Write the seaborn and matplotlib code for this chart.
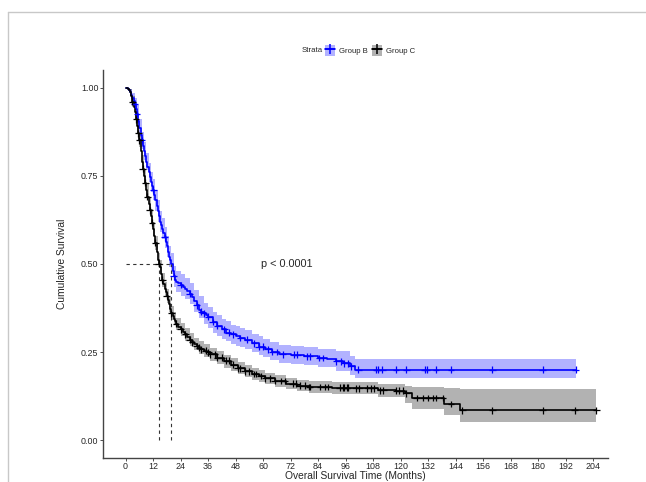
import numpy as np
import pandas as pd
import matplotlib
matplotlib.use("Agg")
import matplotlib.pyplot as plt
from matplotlib.lines import Line2D
from matplotlib.patches import Patch
import seaborn as sns

# survival curve knots (months, survival)
b_time = [0, 0.5, 1, 1.5, 2, 2.5, 3, 3.5, 4, 4.5, 5, 5.5, 6, 6.5, 7, 7.5, 8, 8.5, 9, 9.5,
          10, 10.5, 11, 11.5, 12, 12.5, 13, 13.5, 14, 14.5, 15, 15.5, 16, 16.5, 17, 17.5,
          18, 18.5, 19, 19.5, 20, 20.5, 21, 21.5, 22, 23, 24, 25, 26, 27, 28, 29, 30, 31,
          32, 33, 34, 35, 36, 38, 40, 42, 44, 46, 48, 50, 52, 55, 58, 61, 64, 67, 72, 78,
          84, 88, 92, 95, 98, 100, 196.5]
b_surv = [1.0, 1.0, 0.997, 0.993, 0.987, 0.978, 0.97, 0.962, 0.953, 0.94, 0.925, 0.905,
          0.885, 0.865, 0.85, 0.835, 0.82, 0.805, 0.79, 0.775, 0.76, 0.745, 0.732, 0.72,
          0.71, 0.695, 0.68, 0.665, 0.65, 0.635, 0.62, 0.61, 0.60, 0.588, 0.575, 0.562,
          0.55, 0.535, 0.52, 0.51, 0.50, 0.48, 0.465, 0.455, 0.45, 0.445, 0.44, 0.435,
          0.43, 0.423, 0.415, 0.405, 0.395, 0.383, 0.37, 0.365, 0.36, 0.355, 0.35, 0.335,
          0.325, 0.315, 0.305, 0.30, 0.295, 0.29, 0.285, 0.275, 0.265, 0.258, 0.25, 0.244,
          0.242, 0.238, 0.233, 0.23, 0.224, 0.218, 0.21, 0.20, 0.20]

c_time = [0, 0.5, 1, 1.5, 2, 2.5, 3, 3.5, 4, 4.5, 5, 5.5, 6, 6.5, 7, 7.5, 8, 8.5, 9, 9.5,
          10, 10.5, 11, 11.5, 12, 12.5, 13, 13.5, 14, 14.5, 15, 15.5, 16, 16.5, 17, 17.5,
          18, 18.5, 19, 19.5, 20, 20.5, 21, 21.5, 22, 23, 24, 25, 26, 27, 28, 29, 30, 31,
          32, 33, 34, 35.5, 37, 40, 43, 46, 49, 52, 55, 58, 61, 65, 70, 75, 80, 90, 100,
          110, 118, 122, 125, 139, 146, 205.5]
c_surv = [1.0, 1.0, 0.997, 0.993, 0.986, 0.975, 0.96, 0.945, 0.93, 0.91, 0.89, 0.87, 0.85,
          0.82, 0.79, 0.77, 0.75, 0.73, 0.71, 0.69, 0.67, 0.652, 0.635, 0.617, 0.60, 0.58,
          0.56, 0.535, 0.51, 0.50, 0.49, 0.472, 0.455, 0.442, 0.43, 0.42, 0.41, 0.397,
          0.385, 0.372, 0.36, 0.352, 0.345, 0.337, 0.33, 0.322, 0.315, 0.307, 0.30, 0.292,
          0.285, 0.278, 0.272, 0.267, 0.262, 0.258, 0.254, 0.249, 0.244, 0.234, 0.225,
          0.214, 0.204, 0.195, 0.188, 0.182, 0.176, 0.168, 0.16, 0.155, 0.151, 0.149,
          0.147, 0.142, 0.14, 0.133, 0.12, 0.103, 0.085, 0.085]

# confidence bands
b_band_t = [0, 1, 2, 3, 4, 5, 6, 7, 8, 9, 10, 11, 12, 13, 14, 15, 16, 17, 18, 19, 20, 21,
            22, 24, 26, 28, 30, 32, 34, 36, 38, 40, 42, 44, 46, 48, 50, 52, 55, 58, 60, 63,
            67, 72, 78, 84, 92, 98, 100, 196.5]
b_lo = [1.0, 0.99, 0.975, 0.955, 0.935, 0.9, 0.86, 0.825, 0.795, 0.765, 0.733, 0.703,
        0.68, 0.65, 0.62, 0.59, 0.57, 0.545, 0.52, 0.49, 0.47, 0.435, 0.42, 0.41, 0.40,
        0.385, 0.365, 0.348, 0.33, 0.317, 0.305, 0.296, 0.287, 0.28, 0.272, 0.268, 0.263,
        0.258, 0.25, 0.242, 0.236, 0.227, 0.218, 0.215, 0.212, 0.207, 0.197, 0.185,
        0.176, 0.176]
b_hi = [1.0, 1.0, 0.997, 0.985, 0.97, 0.95, 0.91, 0.875, 0.845, 0.815, 0.787, 0.76, 0.74,
        0.71, 0.68, 0.65, 0.63, 0.605, 0.58, 0.55, 0.53, 0.495, 0.48, 0.47, 0.46, 0.445,
        0.425, 0.408, 0.39, 0.377, 0.365, 0.355, 0.345, 0.337, 0.328, 0.323, 0.318, 0.312,
        0.302, 0.295, 0.288, 0.279, 0.27, 0.268, 0.265, 0.26, 0.252, 0.238, 0.23, 0.23]

c_band_t = [0, 1, 2, 3, 4, 5, 6, 7, 8, 9, 10, 11, 12, 13, 14, 15, 16, 17, 18, 19, 20, 21,
            22, 24, 26, 28, 30, 32, 34, 37, 40, 43, 46, 49, 52, 55, 58, 61, 65, 70, 75, 80,
            90, 100, 110, 122, 125, 139, 146, 205.5]
c_lo = [1.0, 0.99, 0.976, 0.945, 0.913, 0.87, 0.83, 0.77, 0.73, 0.69, 0.65, 0.615, 0.58,
        0.54, 0.49, 0.47, 0.435, 0.41, 0.39, 0.365, 0.342, 0.327, 0.312, 0.297, 0.282,
        0.268, 0.255, 0.245, 0.236, 0.226, 0.216, 0.206, 0.197, 0.188, 0.178, 0.172,
        0.166, 0.159, 0.152, 0.144, 0.139, 0.135, 0.132, 0.130, 0.124, 0.106, 0.088,
        0.071, 0.051, 0.051]
c_hi = [1.0, 1.0, 0.995, 0.975, 0.947, 0.91, 0.87, 0.81, 0.77, 0.73, 0.69, 0.655, 0.62,
        0.58, 0.53, 0.51, 0.475, 0.45, 0.43, 0.405, 0.38, 0.363, 0.348, 0.333, 0.318,
        0.304, 0.29, 0.281, 0.272, 0.262, 0.252, 0.242, 0.232, 0.222, 0.212, 0.205,
        0.198, 0.192, 0.185, 0.176, 0.172, 0.168, 0.166, 0.165, 0.16, 0.155, 0.151,
        0.148, 0.145, 0.145]

# censor times
b_cens = [4, 5, 7, 12, 17, 21, 24, 28, 31, 33, 34, 36, 38, 40, 43, 45, 47, 50, 53, 56,
          58, 60, 62, 64, 66, 68.5, 73.5, 75, 79, 80.5, 84.5, 86, 92, 94, 95.5, 97, 98.5,
          101.5, 109.5, 110, 112, 118, 122.5, 130.5, 131.5, 135.5, 142, 160, 182, 196.5]
c_cens = [3, 4.5, 5.5, 6, 7.5, 8.5, 9.5, 10.5, 11.5, 13, 14.5, 16, 18, 20, 22, 24, 26,
          28, 29, 31, 32, 33, 35, 36, 37, 39, 40, 42, 44, 45, 47, 49, 50, 52, 54, 56, 57,
          59, 61, 63, 65, 68, 69.5, 73, 74.5, 76, 78.5, 80, 80.5, 85, 87, 88.5, 93.5, 95,
          95.5, 96.5, 97, 100.5, 102, 105.5, 107, 108.5, 111, 112.5, 118, 119.5, 121,
          122.5, 127, 130, 132, 134, 135.5, 138.5, 142, 147, 160, 182, 196, 205.5]

b_median = 19.9
c_median = 14.5

groups = ["Group B", "Group C"]
colors = {"Group B": "#0000FF", "Group C": "#000000"}

sns.set_style("white")
plt.rcParams["font.family"] = ["Liberation Sans", "DejaVu Sans"]

fig = plt.figure(figsize=(6.46, 4.82), dpi=100)
ax = fig.add_axes([0.159, 0.05, 0.782, 0.805])

curves = pd.concat([
    pd.DataFrame({"time": b_time, "surv": b_surv, "strata": "Group B"}),
    pd.DataFrame({"time": c_time, "surv": c_surv, "strata": "Group C"}),
])

def step_at(times, surv, t):
    idx = np.searchsorted(times, t, side="right") - 1
    return np.asarray(surv)[idx]

cens = pd.concat([
    pd.DataFrame({"time": b_cens, "surv": step_at(b_time, b_surv, b_cens), "strata": "Group B"}),
    pd.DataFrame({"time": c_cens, "surv": step_at(c_time, c_surv, c_cens), "strata": "Group C"}),
])

ax.fill_between(b_band_t, b_lo, b_hi, step="post", color=colors["Group B"], alpha=0.3, lw=0)
ax.fill_between(c_band_t, c_lo, c_hi, step="post", color=colors["Group C"], alpha=0.3, lw=0)

sns.lineplot(data=curves, x="time", y="surv", hue="strata", palette=colors,
             drawstyle="steps-post", estimator=None, lw=1.2, legend=False, ax=ax)
sns.scatterplot(data=cens, x="time", y="surv", hue="strata", palette=colors,
                marker="+", s=24, linewidth=0.9, legend=False, ax=ax, zorder=4)

# median lines
ax.plot([0, b_median], [0.5, 0.5], ls=(0, (3, 3)), color="#333333", lw=0.8)
for m in [c_median, b_median]:
    ax.plot([m, m], [0, 0.5], ls=(0, (3, 3)), color="#333333", lw=0.8)

ax.text(59, 0.5, "p < 0.0001", fontsize=7.8, va="center", ha="left")

ax.set_xlim(-10, 210.5)
ax.set_ylim(-0.05, 1.05)
ax.set_xticks(np.arange(0, 205, 12))
ax.set_yticks([0, 0.25, 0.5, 0.75, 1.0])
ax.set_yticklabels(["0.00", "0.25", "0.50", "0.75", "1.00"])
ax.tick_params(axis="both", labelsize=6.4, length=2, width=0.6, color="#333333",
               pad=1, direction="out", left=True, bottom=True)
ax.set_xlabel("Overall Survival Time (Months)", fontsize=7.4, labelpad=0)
ax.set_ylabel("Cumulative Survival", fontsize=7.4, labelpad=10)
sns.despine(ax=ax)
for s in ["left", "bottom"]:
    ax.spines[s].set_color("#444444")
    ax.spines[s].set_linewidth(1.0)

# legend on top
handles = []
for g in groups:
    handles.append((Patch(facecolor=colors[g], alpha=0.3, edgecolor="none"),
                    Line2D([], [], color=colors[g], lw=1.2, marker="+", ms=7, mew=1.1)))
fig.text(0.467, 0.895, "Strata", fontsize=5.6, va="center", ha="left")
fig.legend(handles, groups, loc="center left", bbox_to_anchor=(0.497, 0.895), ncol=2,
           frameon=False, fontsize=5.6, handlelength=1.3, handleheight=1.8,
           handletextpad=0.5, columnspacing=0.6, borderpad=0)

# screenshot frame
fig.add_artist(Line2D([0.012, 1.0], [0.976, 0.976], color="#c8c8c8", lw=1.0))
fig.add_artist(Line2D([0.013, 0.013], [0.0, 0.976], color="#c8c8c8", lw=1.0))

fig.savefig("out.png", dpi=100)
